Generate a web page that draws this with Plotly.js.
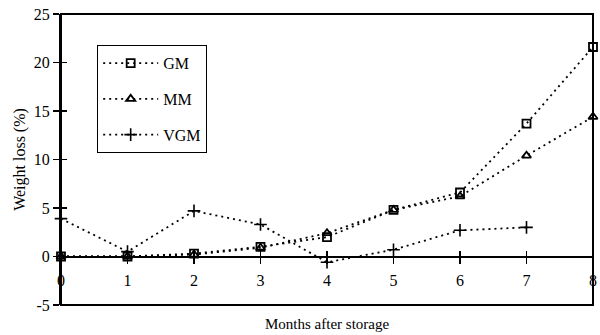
<!DOCTYPE html>
<html><head><meta charset="utf-8">
<script src="https://cdn.plot.ly/plotly-3.0.1.min.js"></script>
<style>body{margin:0;background:#fff}#c{width:600px;height:335px}</style>
</head><body><div id="c"></div>
<script>
const months = [0,1,2,3,4,5,6,7,8];
const monthsVGM = [0,1,2,3,4,5,6,7];
const gm  = [0,0,0.3,1.0,2.0,4.8,6.6,13.7,21.6];
const mm  = [0,0,0.2,0.9,2.4,4.8,6.2,10.4,14.4];
const vgm = [3.9,0.5,4.7,3.3,-0.6,0.7,2.7,3.0];
const yTicks = [-5,0,5,10,15,20,25];
const xTicks = [0,1,2,3,4,5,6,7,8];

const font = {family:'"Liberation Serif", "Times New Roman", serif', color:'#000'};
const line = {color:'#000', dash:'2px,4px', width:1.8};

const traces = [
  {x:months, y:gm, name:'GM', legendgroup:'a', mode:'lines+markers', line:line,
   marker:{symbol:'square-open', size:8, color:'#000', line:{width:1.8}}, cliponaxis:false},
  {x:months, y:mm, name:'MM', legendgroup:'b', mode:'lines+markers', line:line,
   marker:{symbol:'triangle-up-open', size:8, color:'#000', line:{width:1.8}}, cliponaxis:false},
  {x:monthsVGM, y:vgm, name:'VGM', legendgroup:'c', mode:'lines+markers', line:line,
   marker:{symbol:'cross-thin-open', size:9, color:'#000', line:{width:1.6, color:'#000'}}, cliponaxis:false}
];

const layout = {
  width:600, height:335,
  margin:{l:61, r:7, t:14, b:30},
  paper_bgcolor:'#fff', plot_bgcolor:'#fff',
  font:Object.assign({size:16}, font),
  showlegend:true,
  legend:{x:0.068, y:0.893, xanchor:'left', yanchor:'top', bordercolor:'#000', borderwidth:1,
          bgcolor:'#fff', tracegroupgap:12, itemwidth:55, font:Object.assign({size:16}, font)},
  xaxis:{range:[0,8], tickvals:xTicks, ticktext:xTicks.map(String), anchor:'free', position:1/6,
         showline:true, linecolor:'#000', linewidth:2, ticks:'outside', ticklen:6, tickwidth:1.5,
         tickcolor:'#000', showgrid:false, zeroline:false, ticklabelstandoff:3,
         tickfont:Object.assign({size:16}, font)},
  xaxis2:{range:[0,8], tickvals:xTicks, overlaying:'x', anchor:'free', position:1/6,
          showline:false, ticks:'inside', ticklen:6, tickwidth:1.5, tickcolor:'#000',
          showticklabels:false, showgrid:false, zeroline:false},
  yaxis:{range:[-5,25], tickvals:yTicks, ticktext:yTicks.map(String), showline:true, linecolor:'#000',
         linewidth:2, ticks:'outside', ticklen:6, tickwidth:1.5, tickcolor:'#000', showgrid:false,
         zeroline:false, tickfont:Object.assign({size:16}, font),
         title:{text:'Weight loss (%)', font:Object.assign({size:16}, font), standoff:4}},
  yaxis2:{range:[-5,25], tickvals:yTicks, overlaying:'y', showline:false, ticks:'inside', ticklen:6,
          tickwidth:1.5, tickcolor:'#000', showticklabels:false, showgrid:false, zeroline:false},
  shapes:[{type:'rect', xref:'paper', yref:'paper', x0:0, x1:1, y0:0, y1:1,
           line:{color:'#000', width:2}}],
  annotations:[{text:'Months after storage', xref:'paper', yref:'paper', x:0.5, y:0, yshift:-19,
                xanchor:'center', yanchor:'middle', showarrow:false, font:Object.assign({size:15}, font)}]
};
traces.push({x:[0], y:[0], xaxis:'x2', yaxis:'y2', mode:'markers', marker:{opacity:0}, showlegend:false, hoverinfo:'skip'});
Plotly.newPlot('c', traces, layout, {staticPlot:true});
</script></body></html>
